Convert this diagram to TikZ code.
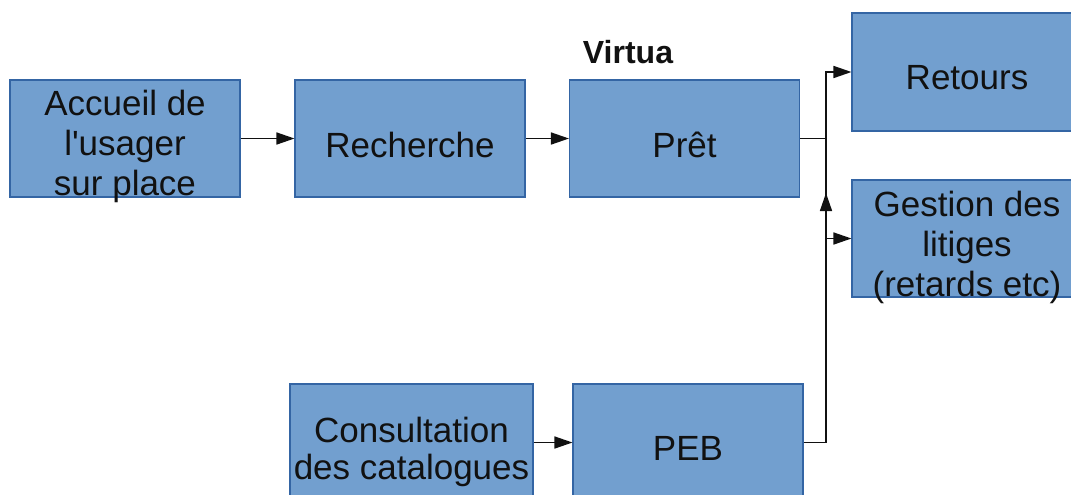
\documentclass[tikz,border=0pt]{standalone}
\usepackage{fontspec}
\setmainfont{Liberation Sans}
\usetikzlibrary{arrows.meta}
\definecolor{boxfill}{HTML}{729FCF}
\definecolor{boxline}{HTML}{3465A4}
\definecolor{ink}{HTML}{111111}
\tikzset{
  box/.style={draw=boxline, fill=boxfill, line width=0.8pt, inner sep=0pt,
    minimum width=172.5pt, minimum height=87.75pt},
  txt/.style={text=ink, align=center, inner sep=0pt,
    font=\fontsize{26.25pt}{30pt}\selectfont},
  flow/.style={line width=1.15pt, draw=ink,
    -{Triangle[length=13.5pt,width=9pt]}},
  link/.style={line width=1.15pt, draw=ink}
}
\begin{document}
\begin{tikzpicture}[x=0.75pt,y=-0.75pt]
\useasboundingbox (0,0) rectangle (1071,494);
\clip (0,0) rectangle (1071,494);
\fill[white] (0,0) rectangle (1071,494);

% process boxes
\node[box, label={[txt,yshift=-6.2pt]center:Accueil de\\l\textquotesingle usager\\sur place}] (acc) at (125,138.5) {};
\node[box, label={[txt,yshift=-4.5pt]center:Recherche}] (rech) at (410,138.5) {};
\node[box, label={[txt,yshift=-4.5pt]center:Prêt}] (pret) at (684.5,138.5) {};
\node[box, minimum height=88.5pt, label={[txt,yshift=-4.5pt]center:Retours}] (ret) at (967,72) {};
\node[box, label={[txt,yshift=-7pt]center:Gestion des\\litiges\\(retards etc)}] (ges) at (967,238.5) {};
\node[box, minimum width=182.25pt, label={[txt,font=\fontsize{26.25pt}{28pt}\selectfont,yshift=-7pt]center:Consultation\\des catalogues}] (cons) at (411.5,442.5) {};
\node[box, label={[txt,yshift=-4.5pt]center:PEB}] (peb) at (688,442.5) {};

\node[text=ink, inner sep=0pt, font=\bfseries\fontsize{24pt}{27pt}\selectfont] (virtua) at (628,52) {Virtua};

% junction column
\coordinate (jx) at (826,138.5);
\coordinate (up) at (826,193);

% connectors
\draw[flow] (acc) -- (rech);
\draw[flow] (rech) -- (pret);
\draw[flow] (cons) -- (peb);
\draw[link] (pret.east) -- (jx);
\draw[flow] (jx) |- (ret.west);
\draw[flow] (jx) |- (ges.west);
\draw[flow] (peb.east) -| (up);
\end{tikzpicture}
\end{document}
